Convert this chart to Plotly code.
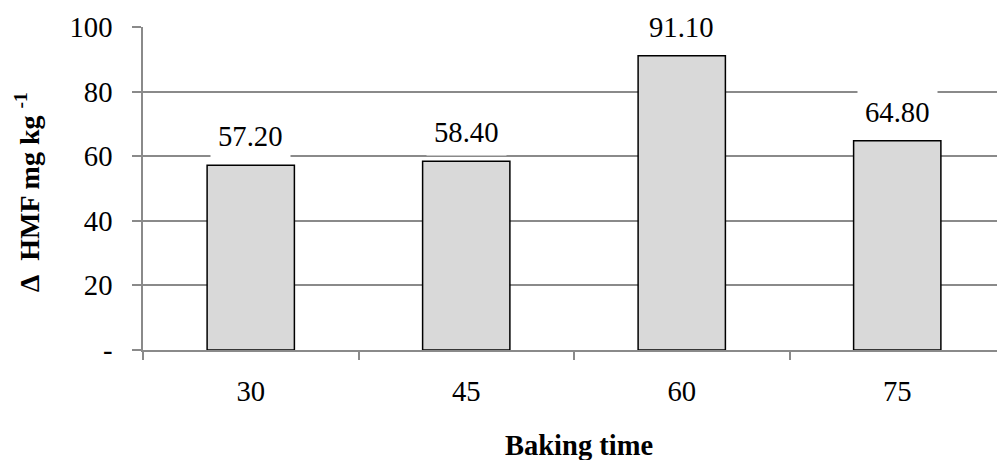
import plotly.graph_objects as go

categories = ["30", "45", "60", "75"]
values = [57.20, 58.40, 91.10, 64.80]
label_texts = ["57.20", "58.40", "91.10", "64.80"]
y_tickvals = [0, 20, 40, 60, 80, 100]
y_ticktext = ["-", "20", "40", "60", "80", "100"]

FONT = "'Times New Roman', 'Liberation Serif', 'DejaVu Serif', serif"
GRID = "#8a8a8a"

fig = go.Figure()
fig.add_trace(go.Bar(
    x=categories, y=values, width=0.405,
    marker=dict(color="#d9d9d9", line=dict(color="black", width=1.5)),
    hoverinfo="skip",
))

for i, (v, t) in enumerate(zip(values, label_texts)):
    fig.add_annotation(
        x=i, y=v, text=t, showarrow=False, yanchor="bottom", yshift=5,
        bgcolor="white", borderpad=7,
        font=dict(family=FONT, size=28.7, color="black"),
    )

fig.add_annotation(
    xref="paper", yref="paper", x=-0.134, y=0.49,
    text="<b>Δ\u00a0\u00a0HMF mg kg <sup>-1</sup></b>", textangle=-90, showarrow=False,
    xanchor="center", yanchor="middle",
    font=dict(family=FONT, size=28, color="black"),
)
fig.add_annotation(
    xref="paper", yref="paper", x=0.506, y=-0.297,
    text="<b>Baking time</b>", showarrow=False,
    xanchor="center", yanchor="middle",
    font=dict(family=FONT, size=28.5, color="black"),
)

fig.update_layout(
    width=997, height=452,
    margin=dict(l=135, r=0, t=19, b=110),
    paper_bgcolor="white", plot_bgcolor="white",
    showlegend=False,
    font=dict(family=FONT, size=28.7, color="black"),
    xaxis=dict(
        type="category", categoryorder="array", categoryarray=categories,
        range=[-0.5, len(categories) - 0.5], automargin=False,
        tickson="boundaries", ticks="outside", ticklen=8, tickangle=0,
        tickcolor=GRID, tickwidth=1.5, showline=True, linecolor=GRID, linewidth=1.5,
        showgrid=False, ticklabelstandoff=15,
    ),
    yaxis=dict(
        range=[0, 100], tickvals=y_tickvals, ticktext=y_ticktext, automargin=False,
        ticks="outside", ticklen=9, tickcolor=GRID, tickwidth=1.5,
        showline=True, linecolor=GRID, linewidth=1.5,
        showgrid=True, gridcolor=GRID, gridwidth=1.5, zeroline=False,
        ticklabelstandoff=14,
    ),
)

fig.write_html("out.html")
